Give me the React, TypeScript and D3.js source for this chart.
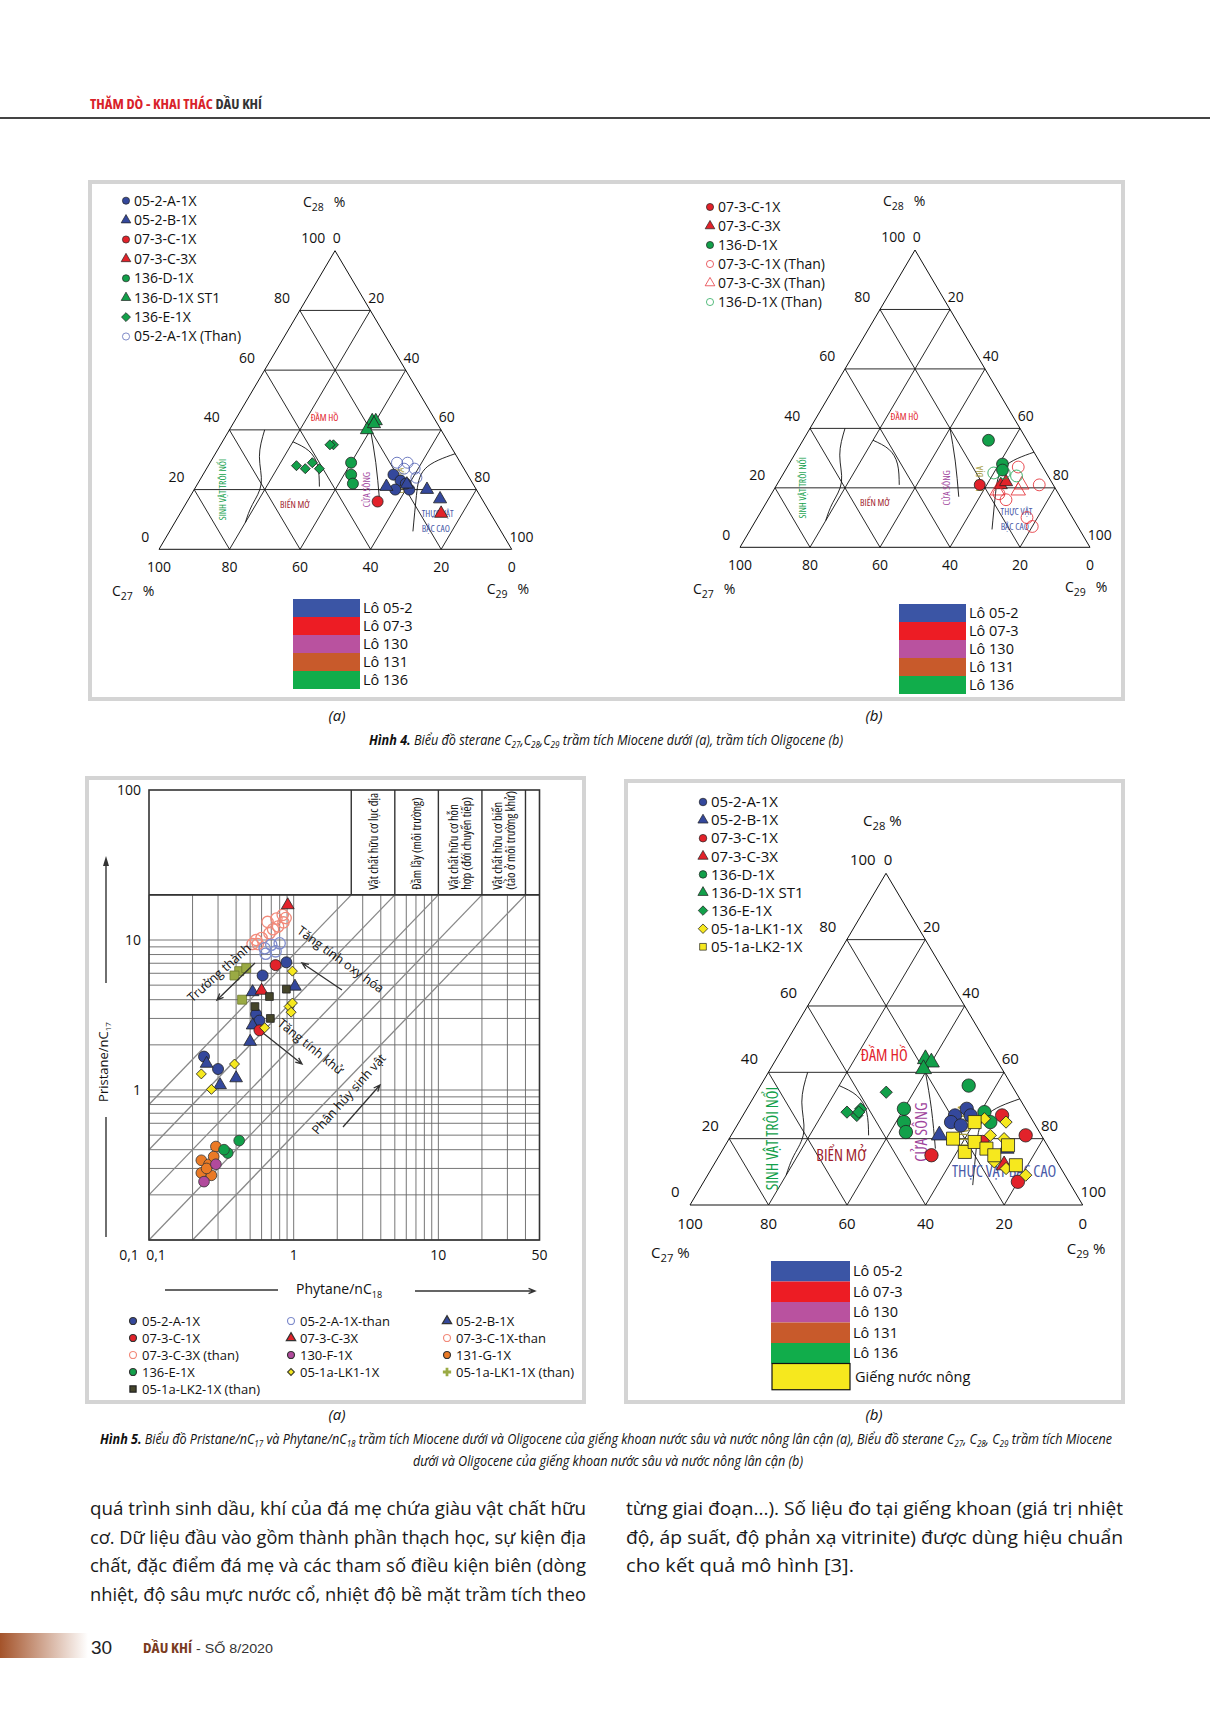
import React from 'react';
import * as d3 from 'd3';

const FONT = "'Open Sans','Noto Sans',sans-serif";
const SANS = "'Liberation Sans',Arial,sans-serif";

// ---------- colours ----------
const BLUE = '#34489c', RED = '#e2222a', GREEN = '#12a04a', YELLOW = '#f6e81e', ORANGE = '#ea7a26',
  PURPLE = '#b14a9c', OLIVE = '#45452a', LOLIVE = '#9aaa44', SALMON = '#f28a7a';

// ---------- ternary data [C27, C28, C29] ----------
const f4aWellA = [[21, 25, 54], [20, 23, 57], [23, 20, 57], [19, 20, 61], [19, 22, 59]];
const f4aWellB = [[25, 21, 54], [19, 22, 60], [14, 20, 66], [12, 17, 72]];
const f4aC1 = [[30, 16, 54]];
const f4aC3 = [[14, 12, 74]];
const f4aD1 = [[31, 29, 40], [33, 25, 42], [34, 22, 44]];
const f4aD1ST1 = [[18, 43, 39], [17, 43, 40], [21, 40, 39], [18, 42, 40]];
const f4aE1 = [[33, 35, 32], [34, 35, 31], [47, 28, 25], [45, 27, 28], [42, 29, 29], [41, 27, 32]];
const f4aAThan = [[18, 29, 53], [15, 29, 56], [14, 27, 59], [15, 24, 61], [17, 27, 56]];

const f4bC1 = [[21, 21, 58]];
const f4bC3 = [[15, 21, 64], [13, 22, 65]];
const f4bD1 = [[11, 36, 53], [11, 28, 61], [12, 26, 62]];
const f4bC1Than = [[7, 27, 66], [4, 21, 75], [16, 16, 68], [13, 7, 80], [13, 10, 77], [17, 18, 65]];
const f4bC3Than = [[9, 21, 70], [11, 19, 70], [17, 19, 64]];
const f4bD1Than = [[15, 25, 60], [9, 24, 67], [12, 25, 63]];

const f5bA = [[15, 29, 56], [19, 27, 54], [21, 25, 54], [19, 24, 57], [15, 27, 58]];
const f5bB = [[26, 21, 53], [11, 17, 72]];
const f5bC1 = [[31, 15, 54], [7, 27, 66], [4, 21, 75], [13, 7, 80], [16, 19, 65]];
const f5bC3 = [[14, 12, 74]];
const f5bD1 = [[11, 36, 53], [31, 29, 40], [33, 25, 42], [34, 22, 44], [11, 28, 61], [11, 25, 64]];
const f5bD1ST1 = [[18, 44, 38], [17, 43, 40], [20, 41, 39]];
const f5bE1 = [[33, 34, 33], [46, 28, 26], [44, 27, 29], [42, 29, 29], [43, 28, 29]];
const f5bLK1 = [[12, 26, 62], [7, 25, 68], [13, 21, 66], [10, 20, 70], [10, 9, 81], [14, 11, 75], [16, 13, 71]];
const f5bLK2 = [[15, 25, 60], [23, 20, 57], [22, 16, 62], [18, 19, 63], [16, 17, 67], [15, 15, 70], [10, 18, 72], [11, 12, 77]];

// field boundary curves [C27, C28, C29]
const bndPlankton = [[50, 40, 10], [56, 31, 13], [60, 22, 18], [66, 15, 19], [71, 9, 20]];
const bndOpenSea = [[44, 36, 20], [41, 33, 26], [41, 28, 31], [44, 21, 35]];
const bndEstuary = [[20, 40, 40], [24, 29, 47], [29, 17, 54]];
const bndTerrestrial = [[0, 32, 68], [11, 27, 62], [18, 18, 64], [25, 6, 69]];

const ternTicks = [0, 20, 40, 60, 80, 100];
const ternGrid = [20, 40, 60, 80];

const zonesSmall = [
  { t: 'ĐẦM HỒ', p: [31, 44, 25], c: '#e2222a', r: 0 },
  { t: 'BIỂN MỞ', p: [54, 15, 31], c: '#a01c2c', r: 0 },
  { t: 'SINH VẬT TRÔI NỔI', p: [72, 20, 8], c: '#12a04a', r: -90 },
  { t: 'CỬA SÔNG', p: [31, 20, 49], c: '#a0449c', r: -90 },
  { t: 'LỤC ĐỊA', p: [20, 23, 57], c: '#a39a3a', r: -90 },
  { t: 'THỰC VẬT', p: [15, 12, 73], c: '#4a5aa8', r: 0 },
  { t: 'BẬC CAO', p: [18, 7, 75], c: '#4a5aa8', r: 0 },
];
const zonesLarge = [
  { t: 'ĐẦM HỒ', p: [28, 45, 27], c: '#e2222a', r: 0 },
  { t: 'BIỂN MỞ', p: [54, 15, 31], c: '#a01c2c', r: 0 },
  { t: 'SINH VẬT TRÔI NỔI', p: [69, 20, 11], c: '#12a04a', r: -90 },
  { t: 'CỬA SÔNG', p: [30, 22, 48], c: '#a0449c', r: -90 },
  { t: 'LỤC ĐỊA', p: [18, 24, 58], c: '#a39a3a', r: -90 },
  { t: 'THỰC VẬT BẬC CAO', p: [15, 10, 75], c: '#4a5aa8', r: 0 },
];

const leg4a = ['05-2-A-1X', '05-2-B-1X', '07-3-C-1X', '07-3-C-3X', '136-D-1X', '136-D-1X ST1', '136-E-1X', '05-2-A-1X (Than)'];
const leg4b = ['07-3-C-1X', '07-3-C-3X', '136-D-1X', '07-3-C-1X (Than)', '07-3-C-3X (Than)', '136-D-1X (Than)'];
const leg5b = ['05-2-A-1X', '05-2-B-1X', '07-3-C-1X', '07-3-C-3X', '136-D-1X', '136-D-1X ST1', '136-E-1X', '05-1a-LK1-1X', '05-1a-LK2-1X'];
const lots = ['Lô 05-2', 'Lô 07-3', 'Lô 130', 'Lô 131', 'Lô 136'];
const lotColors = ['#3b55a5', '#ed1c24', '#b9529f', '#c85a2b', '#11ad4b'];
const shallowLabel = 'Giếng nước nông';

// ---------- Pristane / Phytane data [Ph/nC18, Pr/nC17] ----------
const p5aA = [[0.89, 7.1], [0.61, 5.8], [0.55, 3.2], [0.58, 2.9], [0.24, 1.67], [0.30, 1.38]];
const p5aAThan = [[0.63, 8.8], [0.70, 9.3], [0.80, 9.5], [0.75, 8.4], [0.64, 8.1]];
const p5aB = [[1.02, 4.9], [0.52, 4.5], [0.52, 2.7], [0.50, 2.1], [0.40, 1.2], [0.31, 1.08], [0.25, 1.5]];
const p5aC1 = [[0.75, 6.8], [0.58, 2.5]];
const p5aC3 = [[0.91, 17.1], [0.60, 4.6]];
const p5aC1Than = [[0.52, 9.4], [0.60, 10.3], [0.68, 11.1], [0.78, 12.3], [0.85, 13.1], [0.66, 13.2], [0.76, 13.9], [0.84, 14.7], [0.565, 9.4]];
const p5aC3Than = [[0.55, 10.0], [0.72, 11.8], [0.88, 14.0]];
const p5aF130 = [[0.24, 0.245], [0.29, 0.32]];
const p5aG131 = [[0.29, 0.42], [0.23, 0.34], [0.26, 0.32], [0.23, 0.28], [0.27, 0.27], [0.28, 0.36], [0.25, 0.30]];
const p5aE136 = [[0.42, 0.46], [0.35, 0.38], [0.33, 0.40]];
const p5aLK1 = [[0.98, 6.2], [0.93, 3.6], [0.98, 3.8], [0.96, 3.3], [0.63, 2.6], [0.39, 1.49], [0.23, 1.28], [0.27, 1.01]];
const p5aLK1Than = [[0.42, 6.2], [0.47, 6.5], [0.39, 5.8], [0.44, 4.0]];
const p5aLK2Than = [[0.89, 4.7], [0.68, 4.2], [0.54, 3.6], [0.69, 3.0]];

const diagRatios = [8, 4, 2, 1, 0.5];
const headerCols = [2.5, 5, 10, 20, 40];
const headerLabels = [
  ['Vật chất hữu cơ lục địa'],
  ['Đầm lầy (môi trường)'],
  ['Vật chất hữu cơ hỗn', 'hợp (đới chuyển tiếp)'],
  ['Vật chất hữu cơ biển', '(tảo ở môi trường khử)'],
];
const leg5a = [
  ['05-2-A-1X', '05-2-A-1X-than', '05-2-B-1X'],
  ['07-3-C-1X', '07-3-C-3X', '07-3-C-1X-than'],
  ['07-3-C-3X (than)', '130-F-1X', '131-G-1X'],
  ['136-E-1X', '05-1a-LK1-1X', '05-1a-LK1-1X (than)'],
  ['05-1a-LK2-1X (than)'],
];

const bodyLeft = [
  'quá trình sinh dầu, khí của đá mẹ chứa giàu vật chất hữu',
  'cơ. Dữ liệu đầu vào gồm thành phần thạch học, sự kiện địa',
  'chất, đặc điểm đá mẹ và các tham số điều kiện biên (dòng',
  'nhiệt, độ sâu mực nước cổ, nhiệt độ bề mặt trầm tích theo',
];
const bodyRight = [
  'từng giai đoạn...). Số liệu đo tại giếng khoan (giá trị nhiệt',
  'độ, áp suất, độ phản xạ vitrinite) được dùng hiệu chuẩn',
  'cho kết quả mô hình [3].',
];

// ---------- helpers ----------
type Shape = 'circle' | 'triangle' | 'diamond' | 'square' | 'star';
function markPath(shape: Shape, size: number): string {
  const t = shape === 'circle' ? d3.symbolCircle : shape === 'triangle' ? d3.symbolTriangle
    : shape === 'star' ? d3.symbolCross : d3.symbolSquare;
  return d3.symbol().type(t).size(size)() || '';
}
function Mark({ x, y, shape, size, fill, stroke, sw }: any) {
  return <path d={markPath(shape, size)} transform={`translate(${x},${y})${shape === 'diamond' ? ' rotate(45)' : ''}`}
    fill={fill} stroke={stroke} strokeWidth={sw ?? 0.8} />;
}

interface TSeries { pts: number[][]; shape: Shape; fill: string; stroke: string; size: number; sw?: number }

function Ternary({ L, R, T, series, zones, fs, zfs, titleOff, legend, legX, legY, legStep, legFs, legSize }: any) {
  const yS = d3.scaleLinear().domain([0, 100]).range([L[1], T[1]]);
  const xS = d3.scaleLinear().domain([0, 100]).range([L[0], R[0]]);
  const proj = (p: number[]): [number, number] => {
    const s = p[0] + p[1] + p[2];
    const b = (p[1] / s) * 100, c = (p[2] / s) * 100;
    return [xS(c) + (b / 100) * (T[0] - L[0]), yS(b)];
  };
  const line = d3.line().curve(d3.curveNatural);
  const segs: number[][][] = [];
  ternGrid.forEach((v) => {
    segs.push([[100 - v, v, 0], [0, v, 100 - v]]);
    segs.push([[100 - v, 0, v], [0, 100 - v, v]]);
    segs.push([[v, 100 - v, 0], [v, 0, 100 - v]]);
  });
  const k = fs / 13;
  return (
    <g>
      <path d={`M${L[0]},${L[1]}L${R[0]},${R[1]}L${T[0]},${T[1]}Z`} fill="none" stroke="#111" strokeWidth={1} />
      {segs.map((s, i) => {
        const a = proj(s[0]), b = proj(s[1]);
        return <line key={i} x1={a[0]} y1={a[1]} x2={b[0]} y2={b[1]} stroke="#111" strokeWidth={0.9} />;
      })}
      {[bndPlankton, bndOpenSea, bndEstuary, bndTerrestrial].map((b, i) => (
        <path key={i} d={line(b.map(proj) as any) || ''} fill="none" stroke="#111" strokeWidth={0.9} />
      ))}
      {zones.map((z: any, i: number) => {
        const p = proj(z.p);
        return <text key={i} transform={`translate(${p[0]},${p[1]}) rotate(${z.r})`} textAnchor="middle" dy="0.35em"
          fontSize={zfs} fill={z.c} fontFamily={FONT} style={{ fontStretch: '75%' }}>{z.t}</text>;
      })}
      {ternTicks.map((v) => {
        const pl = proj([100 - v, v, 0]);
        const pr = proj([0, 100 - v, v]);
        const pb = proj([v, 0, 100 - v]);
        return (
          <g key={v} fontFamily={FONT} fontSize={fs} fill="#111">
            <text x={pl[0] - 9 * k} y={pl[1] - 7 * k} textAnchor="end">{v}</text>
            <text x={pr[0] - 2 * k} y={pr[1] - 7 * k} textAnchor="start">{v}</text>
            <text x={pb[0]} y={pb[1] + 21 * k} textAnchor="middle">{v}</text>
          </g>
        );
      })}
      <g fontFamily={FONT} fontSize={fs} fill="#111">
        <text x={T[0] + titleOff.t[0]} y={T[1] + titleOff.t[1]}>C<tspan dy={4} fontSize={fs * 0.75}>28</tspan><tspan dy={-4} dx={titleOff.gap}>%</tspan></text>
        <text x={L[0] + titleOff.l[0]} y={L[1] + titleOff.l[1]}>C<tspan dy={4} fontSize={fs * 0.75}>27</tspan><tspan dy={-4} dx={titleOff.gap}>%</tspan></text>
        <text x={R[0] + titleOff.r[0]} y={R[1] + titleOff.r[1]}>C<tspan dy={4} fontSize={fs * 0.75}>29</tspan><tspan dy={-4} dx={titleOff.gap}>%</tspan></text>
      </g>
      {(series as TSeries[]).map((s, i) => (
        <g key={i}>
          {s.pts.map((p, j) => {
            const q = proj(p);
            return <Mark key={j} x={q[0]} y={q[1]} shape={s.shape} size={s.size} fill={s.fill} stroke={s.stroke} sw={s.sw} />;
          })}
        </g>
      ))}
      {legend.map((lab: string, i: number) => {
        const s = (series as TSeries[])[i];
        const y = legY + i * legStep;
        return (
          <g key={i}>
            <Mark x={legX} y={y} shape={s.shape} size={legSize} fill={s.fill} stroke={s.stroke} sw={0.7} />
            <text x={legX + 8} y={y + legFs * 0.35} fontSize={legFs} fontFamily={FONT} fill="#111">{lab}</text>
          </g>
        );
      })}
    </g>
  );
}

function LotLegend({ x, y, w, h, fs, shallow }: any) {
  return (
    <g fontFamily={FONT} fontSize={fs} fill="#111">
      {lots.map((l, i) => (
        <g key={l}>
          <rect x={x} y={y + i * h} width={w} height={h} fill={lotColors[i]} />
          <text x={x + w + 3} y={y + i * h + h / 2 + fs * 0.35}>{l}</text>
        </g>
      ))}
      {shallow && (
        <g>
          <rect x={x + 1} y={y + 5 * h} width={w - 1} height={h * 1.28} fill={YELLOW} stroke="#111" strokeWidth={1.2} />
          <text x={x + w + 5} y={y + 5 * h + h * 0.64 + fs * 0.35}>{shallowLabel}</text>
        </g>
      )}
    </g>
  );
}

function PrPh() {
  const x = d3.scaleLog().domain([0.1, 50]).range([149, 539.5]);
  const y = d3.scaleLog().domain([0.1, 100]).range([1240, 790]);
  const yTop = 20;
  const xt = x.ticks();
  const yt = y.ticks().filter((v) => v <= yTop);
  const series: TSeries[] = [
    { pts: p5aG131, shape: 'circle', fill: ORANGE, stroke: '#333', size: 90 },
    { pts: p5aF130, shape: 'circle', fill: PURPLE, stroke: '#333', size: 90 },
    { pts: p5aE136, shape: 'circle', fill: GREEN, stroke: '#333', size: 90 },
    { pts: p5aC1Than, shape: 'circle', fill: 'none', stroke: SALMON, size: 100, sw: 1.3 },
    { pts: p5aC3Than, shape: 'circle', fill: 'none', stroke: SALMON, size: 100, sw: 1.3 },
    { pts: p5aAThan, shape: 'circle', fill: 'none', stroke: '#7f8ccc', size: 100, sw: 1.3 },
    { pts: p5aLK1Than, shape: 'square', fill: LOLIVE, stroke: '#6f7a30', size: 80 },
    { pts: p5aA, shape: 'circle', fill: BLUE, stroke: '#222', size: 95 },
    { pts: p5aB, shape: 'triangle', fill: BLUE, stroke: '#222', size: 70 },
    { pts: p5aC1, shape: 'circle', fill: RED, stroke: '#222', size: 95 },
    { pts: p5aC3, shape: 'triangle', fill: RED, stroke: '#222', size: 70 },
    { pts: p5aLK2Than, shape: 'square', fill: OLIVE, stroke: '#222', size: 60 },
    { pts: p5aLK1, shape: 'diamond', fill: YELLOW, stroke: '#222', size: 50 },
  ];
  const legMarks: any[][] = [
    [{ shape: 'circle', fill: BLUE, stroke: '#333' }, { shape: 'circle', fill: 'none', stroke: '#7f8ccc' }, { shape: 'triangle', fill: BLUE, stroke: '#333' }],
    [{ shape: 'circle', fill: RED, stroke: '#333' }, { shape: 'triangle', fill: RED, stroke: '#333' }, { shape: 'circle', fill: 'none', stroke: SALMON }],
    [{ shape: 'circle', fill: 'none', stroke: SALMON }, { shape: 'circle', fill: PURPLE, stroke: '#333' }, { shape: 'circle', fill: ORANGE, stroke: '#333' }],
    [{ shape: 'circle', fill: GREEN, stroke: '#333' }, { shape: 'diamond', fill: YELLOW, stroke: OLIVE }, { shape: 'star', fill: LOLIVE, stroke: 'none' }],
    [{ shape: 'square', fill: OLIVE, stroke: '#222' }],
  ];
  const colX = [133, 291, 447];
  const rowY = [1321, 1338, 1355, 1372, 1389];
  const gx0 = x(0.1), gx1 = x(50), gy0 = y(0.1), gy1 = y(yTop), hy = y(100);
  const arrow = (x1: number, y1: number, x2: number, y2: number) => {
    const a = Math.atan2(y2 - y1, x2 - x1);
    const h = 7;
    return `M${x1},${y1}L${x2},${y2}M${x2 - h * Math.cos(a - 0.4)},${y2 - h * Math.sin(a - 0.4)}L${x2},${y2}L${x2 - h * Math.cos(a + 0.4)},${y2 - h * Math.sin(a + 0.4)}`;
  };
  return (
    <g>
      {xt.map((v, i) => <line key={'x' + i} x1={x(v)} x2={x(v)} y1={gy0} y2={gy1} stroke="#666" strokeWidth={0.9} />)}
      {yt.map((v, i) => <line key={'y' + i} x1={gx0} x2={gx1} y1={y(v)} y2={y(v)} stroke="#666" strokeWidth={0.9} />)}
      {diagRatios.map((r) => {
        const sx = r >= 1 ? 0.1 : 0.1 / r, sy = r >= 1 ? 0.1 * r : 0.1;
        return <line key={r} x1={x(sx)} y1={y(sy)} x2={x(yTop / r)} y2={y(yTop)} stroke="#888" strokeWidth={1.3} />;
      })}
      <rect x={gx0} y={hy} width={gx1 - gx0} height={gy0 - hy} fill="none" stroke="#333" strokeWidth={1.6} />
      <line x1={gx0} x2={gx1} y1={gy1} y2={gy1} stroke="#333" strokeWidth={1.6} />
      {headerCols.map((v) => <line key={v} x1={x(v)} x2={x(v)} y1={hy} y2={gy1} stroke="#333" strokeWidth={1.4} />)}
      {headerLabels.map((ls, i) => {
        const cx = (x(headerCols[i]) + x(headerCols[i + 1])) / 2;
        return ls.map((l, j) => (
          <text key={i + '-' + j} transform={`translate(${cx + (j - (ls.length - 1) / 2) * 13 + 4.5},${gy1 - 5}) rotate(-90)`}
            fontSize={12.5} fontFamily={FONT} fill="#111" style={{ fontStretch: '80%' }}>{l}</text>
        ));
      })}
      {series.map((s, i) => (
        <g key={i}>{s.pts.map((p, j) => <Mark key={j} x={x(p[0])} y={y(p[1])} shape={s.shape} size={s.size} fill={s.fill} stroke={s.stroke} sw={s.sw} />)}</g>
      ))}
      <g stroke="#333" strokeWidth={1.3} fill="none">
        <path d={arrow(255, 963, 217, 1000)} />
        <path d={arrow(342, 990, 302, 963)} />
        <path d={arrow(263, 1033, 302, 1064)} />
        <path d={arrow(343, 1127, 380, 1085)} />
      </g>
      <g fontFamily={FONT} fontSize={12.5} fill="#111" textAnchor="middle">
        <text transform="translate(222,976) rotate(-42)">Trưởng thành</text>
        <text transform="translate(338,963) rotate(36)">Tăng tính oxy hóa</text>
        <text transform="translate(308,1050) rotate(39)">Tăng tính khử</text>
        <text transform="translate(352,1097) rotate(-48)">Phân hủy sinh vật</text>
      </g>
      <g fontFamily={FONT} fontSize={14} fill="#111">
        {[100, 10, 1].map((v) => <text key={v} x={141} y={y(v) + 5} textAnchor="end">{v}</text>)}
        <text x={129} y={1260} textAnchor="middle">0,1</text>
        <text x={156} y={1260} textAnchor="middle">0,1</text>
        {[1, 10, 50].map((v) => <text key={v} x={x(v)} y={1260} textAnchor="middle">{v}</text>)}
        <text x={339} y={1294} textAnchor="middle">Phytane/nC<tspan dy={4} fontSize={9}>18</tspan></text>
        <text transform="translate(108,1062) rotate(-90)" textAnchor="middle" fontSize={13}>Pristane/nC<tspan dy={3} fontSize={8}>17</tspan></text>
      </g>
      <line x1={165} x2={278} y1={1290} y2={1290} stroke="#333" strokeWidth={1.4} />
      <path d={arrow(415, 1291, 535, 1291)} stroke="#333" strokeWidth={1.4} fill="none" />
      <line x1={106} x2={106} y1={983} y2={860} stroke="#333" strokeWidth={1.4} />
      <path d="M106,856 L103,866 L109,866 Z" fill="#333" />
      <line x1={106} x2={106} y1={1117} y2={1237} stroke="#333" strokeWidth={1.4} />
      {leg5a.map((row, r) => row.map((lab, c) => {
        const m = legMarks[r][c];
        return (
          <g key={r + '-' + c}>
            <Mark x={colX[c]} y={rowY[r]} shape={m.shape} size={m.shape === 'diamond' ? 22 : 38} fill={m.fill} stroke={m.stroke} sw={1.2} />
            <text x={colX[c] + 9} y={rowY[r] + 5} fontSize={13} fontFamily={FONT} fill="#111">{lab}</text>
          </g>
        );
      }))}
    </g>
  );
}

export default function App() {
  const s4a: TSeries[] = [
    { pts: f4aWellA, shape: 'circle', fill: BLUE, stroke: '#222', size: 95 },
    { pts: f4aWellB, shape: 'triangle', fill: BLUE, stroke: '#222', size: 75 },
    { pts: f4aC1, shape: 'circle', fill: RED, stroke: '#222', size: 95 },
    { pts: f4aC3, shape: 'triangle', fill: RED, stroke: '#222', size: 75 },
    { pts: f4aD1, shape: 'circle', fill: GREEN, stroke: '#222', size: 95 },
    { pts: f4aD1ST1, shape: 'triangle', fill: GREEN, stroke: '#222', size: 75 },
    { pts: f4aE1, shape: 'diamond', fill: GREEN, stroke: '#222', size: 50 },
    { pts: f4aAThan, shape: 'circle', fill: 'none', stroke: '#4a5ab0', size: 95 },
  ];
  const s4b: TSeries[] = [
    { pts: f4bC1, shape: 'circle', fill: RED, stroke: '#222', size: 95 },
    { pts: f4bC3, shape: 'triangle', fill: RED, stroke: '#222', size: 75 },
    { pts: f4bD1, shape: 'circle', fill: GREEN, stroke: '#222', size: 110 },
    { pts: f4bC1Than, shape: 'circle', fill: 'none', stroke: RED, size: 110 },
    { pts: f4bC3Than, shape: 'triangle', fill: 'none', stroke: RED, size: 90 },
    { pts: f4bD1Than, shape: 'circle', fill: 'none', stroke: GREEN, size: 110 },
  ];
  const s5b: TSeries[] = [
    { pts: f5bA, shape: 'circle', fill: BLUE, stroke: '#222', size: 140 },
    { pts: f5bB, shape: 'triangle', fill: BLUE, stroke: '#222', size: 110 },
    { pts: f5bC1, shape: 'circle', fill: RED, stroke: '#222', size: 140 },
    { pts: f5bC3, shape: 'triangle', fill: RED, stroke: '#222', size: 110 },
    { pts: f5bD1, shape: 'circle', fill: GREEN, stroke: '#222', size: 140 },
    { pts: f5bD1ST1, shape: 'triangle', fill: GREEN, stroke: '#222', size: 110 },
    { pts: f5bE1, shape: 'diamond', fill: GREEN, stroke: '#222', size: 75 },
    { pts: f5bLK1, shape: 'diamond', fill: YELLOW, stroke: '#222', size: 75 },
    { pts: f5bLK2, shape: 'square', fill: YELLOW, stroke: '#222', size: 170 },
  ];
  return (
    <svg width={1210} height={1712} style={{ position: 'absolute', left: 0, top: 0, background: '#fff', fontStretch: '90%' }}>
      <defs>
        <linearGradient id="foot" x1="0" x2="1" y1="0" y2="0">
          <stop offset="0" stopColor="#a4532a" />
          <stop offset="1" stopColor="#ffffff" />
        </linearGradient>
      </defs>
      <rect width={1210} height={1712} fill="#fff" />
      <text x={90} y={109} fontFamily={FONT} fontWeight="bold" fontSize={15} textLength={172} lengthAdjust="spacingAndGlyphs" style={{ fontStretch: '75%' }}>
        <tspan fill="#d9222a">THĂM DÒ - KHAI THÁC </tspan><tspan fill="#333">DẦU KHÍ</tspan>
      </text>
      <line x1={0} x2={1210} y1={118} y2={118} stroke="#444" strokeWidth={2} />

      {/* Figure 4 */}
      <rect x={90} y={182} width={1033} height={517} fill="none" stroke="#d4d4d4" strokeWidth={4} />
      <Ternary L={[159, 549.3]} R={[511.7, 549.3]} T={[335, 250.7]} series={s4a} zones={zonesSmall} fs={14} zfs={9.5}
        titleOff={{ t: [-32, -44], l: [-47, 47], r: [-25, 45], gap: 10 }}
        legend={leg4a} legX={126} legY={200.7} legStep={19.4} legFs={14} legSize={40} />
      <LotLegend x={293} y={599} w={67} h={18} fs={14.5} />
      <Ternary L={[740, 547.3]} R={[1090, 547.3]} T={[915, 250]} series={s4b} zones={zonesSmall} fs={14} zfs={9.5}
        titleOff={{ t: [-32, -44], l: [-47, 47], r: [-25, 45], gap: 10 }}
        legend={leg4b} legX={710} legY={207} legStep={19} legFs={14} legSize={40} />
      <LotLegend x={899} y={604} w={67} h={18} fs={14.5} />
      <g fontFamily={FONT} fontStyle="italic" fontSize={15} fill="#111" textAnchor="middle">
        <text x={337} y={721}>(a)</text>
        <text x={874} y={721}>(b)</text>
      </g>
      <text x={369} y={745} textLength={474} lengthAdjust="spacingAndGlyphs" fontFamily={FONT} fontStyle="italic" fontSize={14} fill="#111">
        <tspan fontWeight="bold">Hình 4.</tspan> Biểu đồ sterane C<tspan dy={3} fontSize={9}>27</tspan><tspan dy={-3}>,C</tspan><tspan dy={3} fontSize={9}>28</tspan><tspan dy={-3}>,C</tspan><tspan dy={3} fontSize={9}>29</tspan><tspan dy={-3}> trầm tích Miocene dưới (a), trầm tích Oligocene (b)</tspan>
      </text>

      {/* Figure 5a */}
      <rect x={87} y={778} width={497} height={624} fill="none" stroke="#d4d4d4" strokeWidth={4} />
      <PrPh />
      {/* Figure 5b */}
      <rect x={626} y={781} width={497} height={621} fill="none" stroke="#d4d4d4" strokeWidth={4} />
      <Ternary L={[690, 1205]} R={[1082.7, 1205]} T={[886, 873.3]} series={s5b} zones={zonesLarge} fs={15} zfs={16}
        titleOff={{ t: [-23, -47], l: [-39, 53], r: [-16, 49], gap: 4 }}
        legend={leg5b} legX={703} legY={802} legStep={18.1} legFs={15} legSize={45} />
      <LotLegend x={771} y={1261} w={79} h={20.5} fs={14.5} shallow />
      <g fontFamily={FONT} fontStyle="italic" fontSize={15} fill="#111" textAnchor="middle">
        <text x={337} y={1420}>(a)</text>
        <text x={874} y={1420}>(b)</text>
      </g>
      <g fontFamily={FONT} fontStyle="italic" fontSize={14} fill="#111">
        <text x={100} y={1444} textLength={1012} lengthAdjust="spacingAndGlyphs">
          <tspan fontWeight="bold">Hình 5.</tspan> Biểu đồ Pristane/nC<tspan dy={3} fontSize={9}>17</tspan><tspan dy={-3}> và Phytane/nC</tspan><tspan dy={3} fontSize={9}>18</tspan><tspan dy={-3}> trầm tích Miocene dưới và Oligocene của giếng khoan nước sâu và nước nông lân cận (a), Biểu đồ sterane C</tspan><tspan dy={3} fontSize={9}>27</tspan><tspan dy={-3}>, C</tspan><tspan dy={3} fontSize={9}>28</tspan><tspan dy={-3}>, C</tspan><tspan dy={3} fontSize={9}>29</tspan><tspan dy={-3}> trầm tích Miocene</tspan>
        </text>
        <text x={413} y={1466} textLength={390} lengthAdjust="spacingAndGlyphs">dưới và Oligocene của giếng khoan nước sâu và nước nông lân cận (b)</text>
      </g>

      <g fontFamily={FONT} fontSize={19} fill="#1a1a1a" style={{ fontStretch: '100%' }}>
        {bodyLeft.map((l, i) => (
          <text key={i} x={90} y={1515 + i * 28.5} textLength={496} lengthAdjust="spacingAndGlyphs">{l}</text>
        ))}
        {bodyRight.map((l, i) => (
          <text key={i} x={626} y={1515 + i * 28.5} textLength={i < 2 ? 497 : 228} lengthAdjust="spacingAndGlyphs">{l}</text>
        ))}
      </g>

      <rect x={0} y={1633} width={88} height={25} fill="url(#foot)" />
      <text x={91} y={1654} fontFamily={SANS} fontSize={19} fill="#222" style={{ fontStretch: 'normal' }}>30</text>
      <text x={143} y={1653} fontFamily={FONT} fontWeight="bold" fontSize={15} fill="#7a3b1e" textLength={49} lengthAdjust="spacingAndGlyphs" style={{ fontStretch: '75%' }}>DẦU KHÍ</text>
      <text x={196} y={1653} fontFamily={SANS} fontSize={13.5} fill="#333" textLength={77} lengthAdjust="spacingAndGlyphs" style={{ fontStretch: 'normal' }}>- SỐ 8/2020</text>
    </svg>
  );
}
